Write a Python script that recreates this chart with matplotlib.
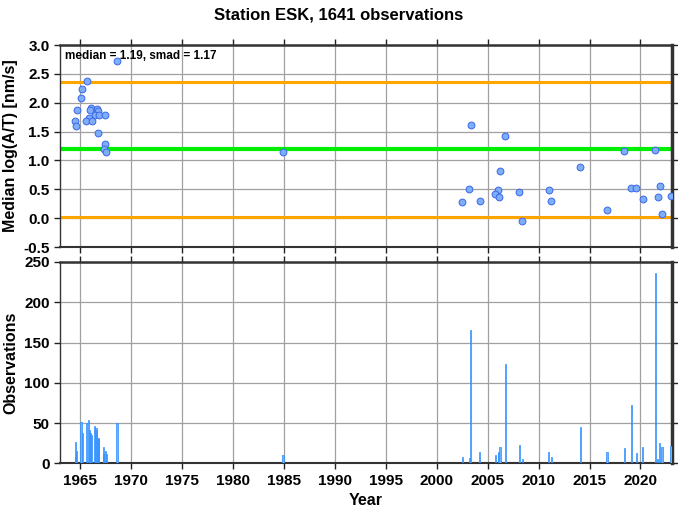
import matplotlib
matplotlib.use("Agg")
import matplotlib.pyplot as plt

plt.rcParams["font.family"] = ["Liberation Sans", "DejaVu Sans"]

# -------------------------
# Data
# -------------------------

median = 1.19
smad = 1.17

point_years = [
    1968.6, 1965.7, 1965.2, 1965.1, 1964.7, 1964.5, 1964.6, 1966.0,
    1965.9, 1966.6, 1966.7, 1966.4, 1966.8, 1967.4, 1965.8, 1965.6,
    1966.1, 1966.7, 1967.4, 1967.3, 1967.5, 1984.9,
    2003.33, 2006.73, 2018.4, 2021.47, 2006.2, 2014.1, 2003.2, 2002.5,
    2004.2, 2006.05, 2005.75, 2006.1, 2008.1, 2008.4, 2011.0, 2011.25,
    2016.7, 2019.1, 2019.6, 2020.2, 2021.9, 2021.7, 2022.1, 2023.0,
]
point_values = [
    2.73, 2.38, 2.23, 2.09, 1.88, 1.69, 1.60, 1.91,
    1.88, 1.89, 1.85, 1.78, 1.78, 1.78, 1.74, 1.69,
    1.69, 1.48, 1.29, 1.19, 1.14, 1.15,
    1.62, 1.43, 1.17, 1.18, 0.82, 0.88, 0.51, 0.28,
    0.30, 0.48, 0.42, 0.36, 0.46, -0.05, 0.48, 0.29,
    0.15, 0.53, 0.53, 0.33, 0.55, 0.36, 0.07, 0.38,
]

bar_years = [
    1964.5, 1964.55, 1964.64, 1965.06, 1965.2, 1965.6, 1965.8, 1965.9,
    1966.0, 1966.1, 1966.4, 1966.55, 1966.6, 1966.75, 1966.8, 1967.25,
    1967.3, 1967.45, 1967.55, 1968.6, 1984.9,
    2002.5, 2003.2, 2003.33, 2004.2, 2005.75, 2006.05, 2006.1, 2006.2,
    2006.73, 2008.1, 2008.4, 2011.0, 2011.25, 2014.1, 2016.7, 2018.4,
    2019.1, 2019.6, 2020.2, 2021.47, 2021.7, 2021.9, 2022.1, 2023.0,
]
bar_counts = [
    27, 8, 16, 52, 38, 50, 54, 41,
    38, 35, 47, 44, 41, 31, 30, 12,
    21, 16, 12, 50, 11,
    8, 7, 165, 14, 10, 14, 12, 21,
    123, 23, 6, 14, 8, 45, 14, 19,
    72, 13, 21, 236, 5, 26, 21, 22,
]

x_ticks = list(range(1965, 2025, 5))

# -------------------------
# Figure
# -------------------------

fig = plt.figure(figsize=(6.78, 5.11), dpi=100)
ax1 = fig.add_axes([0.0885, 0.5166, 0.9027, 0.3953])
ax2 = fig.add_axes([0.0885, 0.0930, 0.9027, 0.3943])

for ax in (ax1, ax2):
    ax.set_xlim(1963, 2023.1)
    ax.set_xticks(x_ticks)
    ax.grid(True, color="#a0a0a0", linewidth=0.9)
    ax.set_axisbelow(True)
    ax.tick_params(direction="out", length=4, width=1, labelsize=11,
                   top=True, right=True, color="#222222")
    ax.spines["left"].set_linewidth(1.0)
    ax.spines["bottom"].set_linewidth(1.5)
    ax.spines["top"].set_linewidth(1.8)
    ax.spines["right"].set_linewidth(2.5)
    for s in ax.spines.values():
        s.set_color("#333333")

# Top panel: median values
ax1.set_ylim(-0.5, 3.0)
ax1.set_yticks([-0.5, 0.0, 0.5, 1.0, 1.5, 2.0, 2.5, 3.0])
ax1.set_yticklabels(["-0.5", "0.0", "0.5", "1.0", "1.5", "2.0", "2.5", "3.0"],
                    fontweight="bold")
ax1.set_xticklabels([])
ax1.axhline(median + smad, color="#ffa500", linewidth=2.2, zorder=2)
ax1.axhline(median - smad, color="#ffa500", linewidth=2.2, zorder=2)
ax1.axhline(median, color="#00ee00", linewidth=3.0, zorder=2)
ax1.scatter(point_years, point_values, s=24, facecolor="#7eaef5",
            edgecolor="#3a66ec", linewidth=0.7, zorder=3, clip_on=True)
ax1.text(0.008, 0.975, f"median = {median:.2f}, smad = {smad:.2f}",
         transform=ax1.transAxes, ha="left", va="top",
         fontsize=8.5, fontweight="bold")
ax1.set_ylabel("Median log(A/T) [nm/s]", fontsize=11.5, fontweight="bold")

# Bottom panel: number of observations
ax2.bar(bar_years, bar_counts, width=0.13, color="#6cb4ff",
        edgecolor="#2a8cff", linewidth=0.5, zorder=3)
ax2.set_ylim(0, 250)
ax2.set_yticks([0, 50, 100, 150, 200, 250])
ax2.set_yticklabels(["0", "50", "100", "150", "200", "250"], fontweight="bold")
ax2.set_xticklabels([str(t) for t in x_ticks], fontweight="bold")
ax2.set_ylabel("Observations", fontsize=11.5, fontweight="bold")
ax2.set_xlabel("Year", fontsize=11.5, fontweight="bold")

fig.suptitle("Station ESK, 1641 observations", x=0.5, y=0.985,
             fontsize=12, fontweight="bold")

fig.savefig("out.png", dpi=100)
